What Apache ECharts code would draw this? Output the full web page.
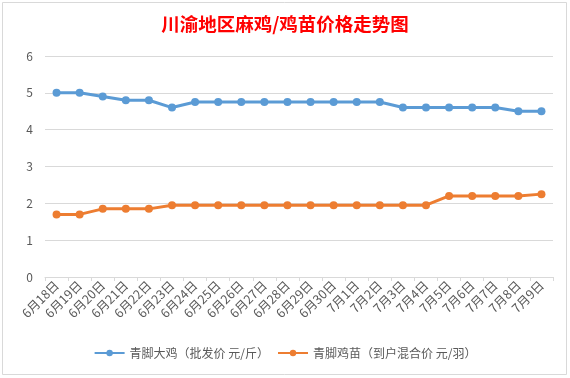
<!DOCTYPE html>
<html><head><meta charset="utf-8">
<script src="https://cdn.jsdelivr.net/npm/echarts@6/dist/echarts.min.js"></script>
<style>html,body{margin:0;padding:0;background:#fff}#c{width:570px;height:378px}</style>
</head><body><div id="c"></div>
<script>
const categories = ['6月18日','6月19日','6月20日','6月21日','6月22日','6月23日','6月24日','6月25日','6月26日','6月27日','6月28日','6月29日','6月30日','7月1日','7月2日','7月3日','7月4日','7月5日','7月6日','7月7日','7月8日','7月9日'];
const chickenPrice = [5,5,4.9,4.8,4.8,4.6,4.75,4.75,4.75,4.75,4.75,4.75,4.75,4.75,4.75,4.6,4.6,4.6,4.6,4.6,4.5,4.5];
const chickPrice = [1.7,1.7,1.85,1.85,1.85,1.95,1.95,1.95,1.95,1.95,1.95,1.95,1.95,1.95,1.95,1.95,1.95,2.2,2.2,2.2,2.2,2.25];
const seriesNames = ['青脚大鸡（批发价 元/斤）','青脚鸡苗（到户混合价 元/羽）'];
const titleText = '川渝地区麻鸡/鸡苗价格走势图';

const chart = echarts.init(document.getElementById('c'), null, {renderer:'canvas'});
const font = '"Noto Sans CJK SC", "Noto Sans", sans-serif';
chart.setOption({
  backgroundColor:'#fff',
  animation:false,
  textStyle:{fontFamily:font},
  title:{text:titleText,left:'center',top:10,textStyle:{color:'#ff0000',fontSize:18.5,fontWeight:'bold',fontFamily:font}},
  graphic:[{type:'rect',shape:{x:2.5,y:2.5,width:564,height:372},style:{fill:'none',stroke:'#d9d9d9',lineWidth:1},silent:true}],
  legend:{bottom:14,left:'center',itemWidth:30,itemHeight:8,itemGap:8,
    textStyle:{color:'#595959',fontSize:12,fontFamily:font},
    data:seriesNames},
  grid:{left:45,right:17,top:56,bottom:101},
  xAxis:{type:'category',data:categories,boundaryGap:true,
    axisLine:{lineStyle:{color:'#d9d9d9'}},
    axisTick:{show:true,length:4,lineStyle:{color:'#d9d9d9'}},
    axisLabel:{rotate:45,color:'#595959',fontSize:12.5,interval:0,margin:6,fontFamily:font}},
  yAxis:{type:'value',min:0,max:6,interval:1,
    axisLine:{show:false},axisTick:{show:false},
    splitLine:{lineStyle:{color:'#d9d9d9'}},
    axisLabel:{color:'#595959',fontSize:12,margin:12,fontFamily:font}},
  series:[
    {name:seriesNames[0],type:'line',data:chickenPrice,symbol:'circle',symbolSize:8,
     lineStyle:{color:'#5B9BD5',width:3},itemStyle:{color:'#5B9BD5'}},
    {name:seriesNames[1],type:'line',data:chickPrice,symbol:'circle',symbolSize:8,
     lineStyle:{color:'#ED7D31',width:3},itemStyle:{color:'#ED7D31'}}
  ]
});
</script></body></html>
